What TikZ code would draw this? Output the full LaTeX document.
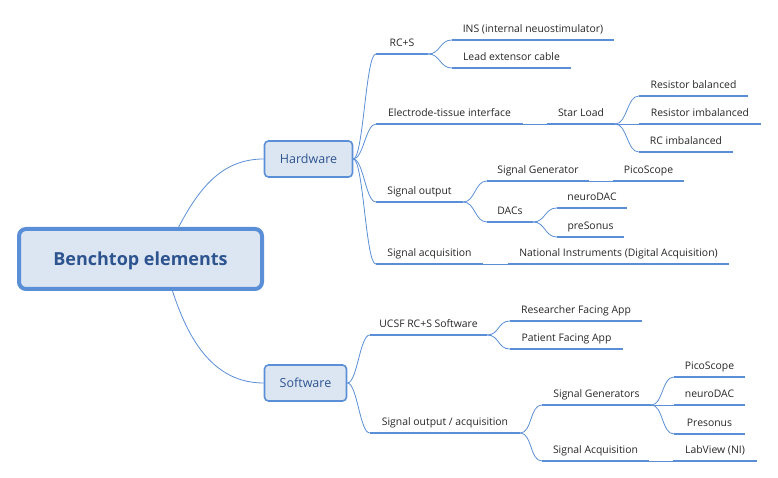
\documentclass[tikz,border=0pt]{standalone}
\usepackage{fontspec}
\setmainfont{Open Sans}
\usepackage{tikz}
\usepackage{xcolor}

\definecolor{mapblue}{RGB}{90,142,214}
\definecolor{mapfill}{RGB}{220,230,242}
\definecolor{mapnavy}{RGB}{46,84,144}

\tikzset{
	topic/.style={draw=mapblue, fill=mapfill, rounded corners=4pt, line width=1.6pt,
		text=mapnavy, font=\fontsize{12.5}{14}\selectfont, minimum height=36pt},
	leaf/.style={anchor=south, inner xsep=0pt, inner ysep=4pt, text depth=3pt,
		font=\fontsize{10.4}{12}\selectfont, text=black!85},
	link/.style={mapblue, line width=0.8pt},
	fork/.style={out=0, in=180, distance=12pt},
	uline/.style={mapblue, line width=2.6pt}
}

\begin{document}
\begin{tikzpicture}[x=1pt,y=1pt]
\useasboundingbox (0,0) rectangle (778,478);

% central topic and the two main branches
\node[topic, line width=4pt, rounded corners=7pt, minimum width=243pt, minimum height=60pt,
	text depth=0pt, font=\fontsize{18}{20}\selectfont\bfseries] (root) at (140.5,219) {Benchtop elements};
\node[topic, minimum width=88pt] (hw) at (308.5,319) {Hardware};
\node[topic, minimum width=82pt] (sw) at (305.5,95) {Software};

% hardware
\node[leaf, minimum width=52pt] (rcs) at (402,424) {RC+S};
\node[leaf, minimum width=162pt] (ins) at (533,438) {INS (internal neuostimulator)};
\node[leaf, minimum width=119pt] (lead) at (511.5,410) {Lead extensor cable};
\node[leaf, minimum width=147pt] (eti) at (449.5,354) {Electrode-tissue interface};
\node[leaf, minimum width=68pt] (star) at (581,354) {Star Load};
\node[leaf, minimum width=109pt] (resbal) at (693.5,382) {Resistor balanced};
\node[leaf, minimum width=122pt] (resimb) at (700,354) {Resistor imbalanced};
\node[leaf, minimum width=94pt] (rcimb) at (686,326) {RC imbalanced};
\node[leaf, minimum width=87pt] (sigout) at (419.5,276) {Signal output};
\node[leaf, minimum width=102pt] (siggen) at (538,297) {Signal Generator};
\node[leaf, minimum width=71pt] (pico) at (648.5,297) {PicoScope};
\node[leaf, minimum width=46pt] (dacs) at (510,256) {DACs};
\node[leaf, minimum width=70pt] (ndac) at (592,270) {neuroDAC};
\node[leaf, minimum width=67pt] (preson) at (590.5,241) {preSonus};
\node[leaf, minimum width=107pt] (sigacq) at (429.5,214) {Signal acquisition};
\node[leaf, minimum width=221pt] (ni) at (618.5,214) {National Instruments (Digital Acquisition)};

% software
\node[leaf, minimum width=117pt] (ucsf) at (428.5,143) {UCSF RC+S Software};
\node[leaf, minimum width=132pt] (rfa) at (576,157) {Researcher Facing App};
\node[leaf, minimum width=113pt] (pfa) at (566.5,129) {Patient Facing App};
\node[leaf, minimum width=150pt] (soa) at (445,45) {Signal output / acquisition};
\node[leaf, minimum width=109pt] (sgens) at (596.5,73) {Signal Generators};
\node[leaf, minimum width=107pt] (sacq) at (595.5,17) {Signal Acquisition};
\node[leaf, minimum width=71pt] (picosw) at (709.5,101) {PicoScope};
\node[leaf, minimum width=71pt] (ndacsw) at (709.5,73) {neuroDAC};
\node[leaf, minimum width=71pt] (pressw) at (709.5,44) {Presonus};
\node[leaf, minimum width=84pt] (labv) at (715,17) {LabView (NI)};

% connectors
\draw[link] (root.40) to[out=62, in=180] (hw.west);
\draw[link] (root.-45) to[out=-72, in=180] (sw.west);
\foreach \n in {rcs,eti,sigout,sigacq}
	\draw[link] (hw.east) to[fork, distance=10pt] (\n.south west);
\foreach \n in {ucsf,soa}
	\draw[link] (sw.east) to[fork, distance=10pt] (\n.south west);
\foreach \a/\b in {rcs/ins, rcs/lead, eti/star, star/resbal, star/resimb, star/rcimb,
	sigout/siggen, sigout/dacs, siggen/pico, dacs/ndac, dacs/preson, sigacq/ni,
	ucsf/rfa, ucsf/pfa, soa/sgens, soa/sacq, sgens/picosw, sgens/ndacsw, sgens/pressw, sacq/labv}
	\draw[link] (\a.south east) to[fork] (\b.south west);

% underlines
\foreach \n in {rcs,ins,lead,eti,star,resbal,resimb,rcimb,sigout,siggen,pico,dacs,ndac,preson,
	sigacq,ni,ucsf,rfa,pfa,soa,sgens,sacq,picosw,ndacsw,pressw,labv}
	\draw[uline] (\n.south west) -- (\n.south east);
\end{tikzpicture}
\end{document}
